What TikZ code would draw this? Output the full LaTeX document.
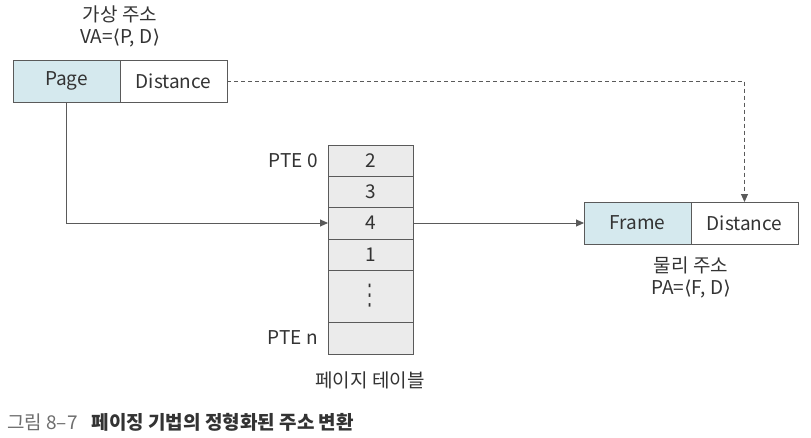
\documentclass[tikz,border=0pt]{standalone}
\usepackage{fontspec}
\setmainfont{Noto Sans CJK KR}
\newfontfamily\symfont{DejaVu Sans}
\usetikzlibrary{arrows.meta, positioning, calc}
\definecolor{cellblue}{HTML}{D5E9EE}
\definecolor{cellgray}{HTML}{EBEBEB}
\definecolor{linegray}{HTML}{5A5A5A}
\definecolor{textgray}{HTML}{333333}
\definecolor{capgray}{HTML}{6E6E6E}
\tikzset{
  addrcell/.style={
    draw=linegray, fill=white, inner sep=0pt, outer sep=0pt,
    minimum width=107pt, minimum height=42pt,
    font=\fontsize{19}{22}\selectfont, text=textgray
  },
  ptecell/.style={
    draw=linegray, fill=cellgray, inner sep=0pt, outer sep=0pt,
    minimum width=85pt, minimum height=31pt,
    font=\fontsize{19}{22}\selectfont, text=textgray
  },
  addrlabel/.style={
    font=\fontsize{19}{22}\selectfont, text=textgray, align=center, inner sep=0pt
  },
  addrarrow/.style={
    -{Triangle[length=8pt, width=7pt]}, draw=linegray, line width=0.9pt
  },
  dasharrow/.style={
    addrarrow, dash pattern=on 4pt off 3pt
  },
}
\begin{document}
\begin{tikzpicture}[x=1pt, y=-1pt]
  \useasboundingbox[fill=white] (0,0) rectangle (811,437);

  % -- virtual address --
  \node[addrcell, fill=cellblue, anchor=north west] (page) at (13,60) {Page};
  \node[addrcell, right=0pt of page] (vadist) {Distance};
  \node[addrlabel] (valabel) at (120,26)
    {가상 주소\\VA={\symfont ⟨}P, D{\symfont ⟩}};

  % -- page table --
  \node[ptecell, anchor=north west] (pte0) at (328,145) {2};
  \node[ptecell, below=0pt of pte0] (pte1) {3};
  \node[ptecell, below=0pt of pte1, minimum height=32pt] (pte2) {4};
  \node[ptecell, below=0pt of pte2] (pte3) {1};
  \node[ptecell, below=0pt of pte3, minimum height=52pt] (ptedots)
    {\scalebox{0.9}[1.5]{\symfont ⋮}};
  \node[ptecell, below=0pt of ptedots, minimum height=32pt] (pten) {};

  \node[addrlabel, anchor=east] (pte0label) at (318,161) {PTE 0};
  \node[addrlabel, anchor=east] (ptenlabel) at (318,338) {PTE n};
  \node[addrlabel] (ptlabel) at (370,380) {페이지 테이블};

  % -- physical address --
  \node[addrcell, fill=cellblue, anchor=north west] (frame) at (584,202) {Frame};
  \node[addrcell, right=0pt of frame] (padist) {Distance};
  \node[addrlabel] (palabel) at (691,277)
    {물리 주소\\PA={\symfont ⟨}F, D{\symfont ⟩}};

  % -- connectors --
  \draw[addrarrow] (page.south) |- (pte2.west);
  \draw[addrarrow] (pte2.east) -- (frame.west);
  \draw[dasharrow] (vadist.east) -| (padist.north);

  % -- caption --
  \node[anchor=west, inner sep=0pt, font=\fontsize{19}{23}\selectfont] (caption)
    at (7,422) {\textcolor{capgray}{그림 8–7}\hspace{14pt}\textcolor{textgray}{\bfseries 페이징 기법의 정형화된 주소 변환}};
\end{tikzpicture}
\end{document}
